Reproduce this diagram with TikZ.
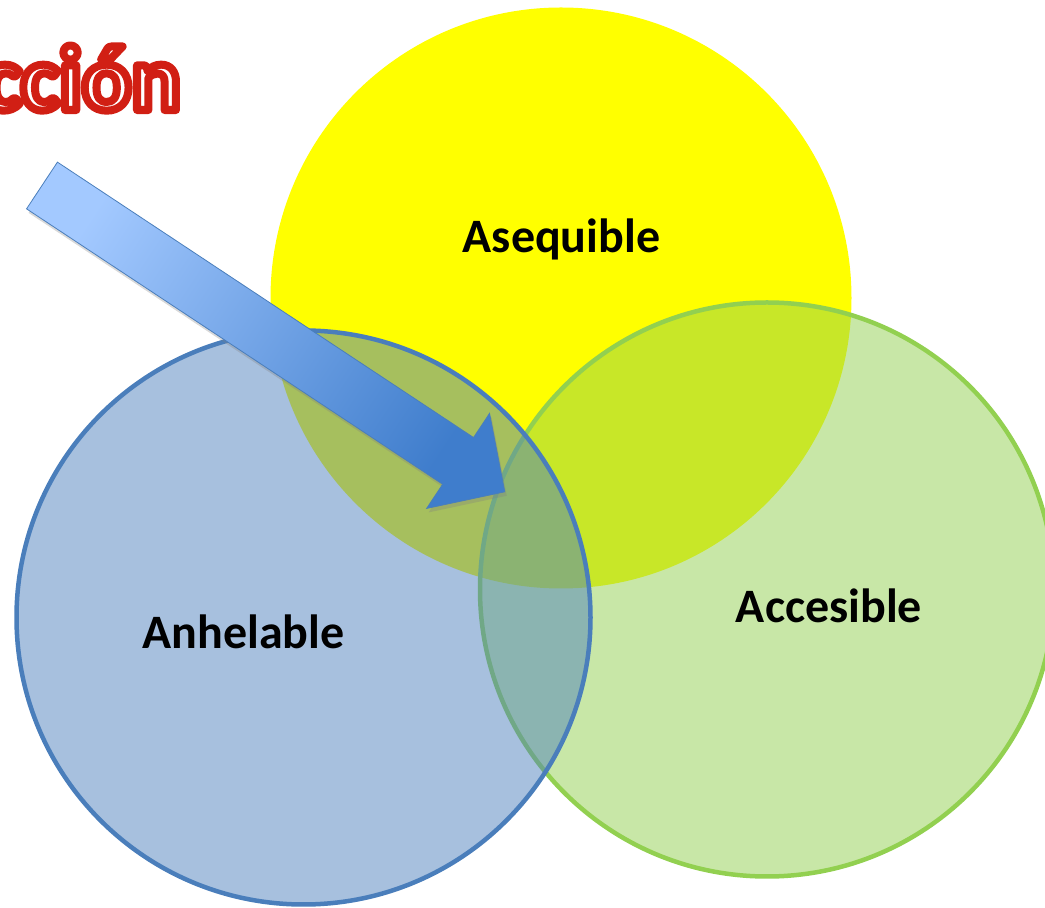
\documentclass[tikz,border=0pt]{standalone}
\usepackage{fontspec}
\setmainfont{Carlito}
\usetikzlibrary{shadows}
\definecolor{yel}{HTML}{FFFF00}
\definecolor{grn}{HTML}{92D050}
\definecolor{blu}{HTML}{4F81BD}
\definecolor{bluline}{HTML}{4A7EBB}
\definecolor{arrlight}{HTML}{A3C9FF}
\definecolor{arrdark}{HTML}{3F7DCC}
\definecolor{arredge}{HTML}{4A7EBB}
\newcommand{\strokedtext}[3]{\special{pdf:literal direct 2 Tr 1 j #1 w #2 RG}#3\special{pdf:literal direct 0 Tr}}
\begin{document}
\begin{tikzpicture}[x=1pt,y=1pt,
  setcircle/.style={circle, inner sep=0pt, minimum size=574pt},
  label/.style={font=\bfseries\fontsize{48}{48}\selectfont, text=black, inner sep=0pt, anchor=base},
  arrowbody/.style={draw=arredge, line width=0.8pt, line join=miter,
     top color=arrlight, bottom color=arrdark, shading angle=56.5,
     drop shadow={opacity=0.3, shadow xshift=2pt, shadow yshift=-4pt}}
]
\useasboundingbox (0,0) rectangle (1045,908);
\clip (0,0) rectangle (1045,908);
% circles
\node[setcircle, minimum size=581pt, fill=yel] (asequible) at (561,610) {};
\node[setcircle, fill=grn, fill opacity=0.5, draw=grn, line width=4.5pt] (accesible) at (767,318.5) {};
\node[setcircle, fill=blu, fill opacity=0.5, draw=bluline, line width=4.5pt] (anhelable) at (303.5,290.5) {};
% labels
\node[label] (lasequible) at (561.5,655) {Asequible};
\node[label] (lanhelable) at (243.5,259) {Anhelable};
\node[label] (laccesible) at (829,285.5) {Accesible};
% title (outlined text)
\node[font=\bfseries\fontsize{92}{92}\selectfont, inner sep=0pt, anchor=base east] (title) at (181,798) {\color{white}\strokedtext{8}{0.82 0.12 0.08}{cción}};
% arrow
\begin{scope}[shift={(42,722.5)}, rotate=-33.5]
\path[arrowbody] (0,28) -- (499,28) -- (499,57) -- (555,0) -- (499,-57) -- (499,-28) -- (0,-28) -- cycle;
\end{scope}
\end{tikzpicture}
\end{document}
